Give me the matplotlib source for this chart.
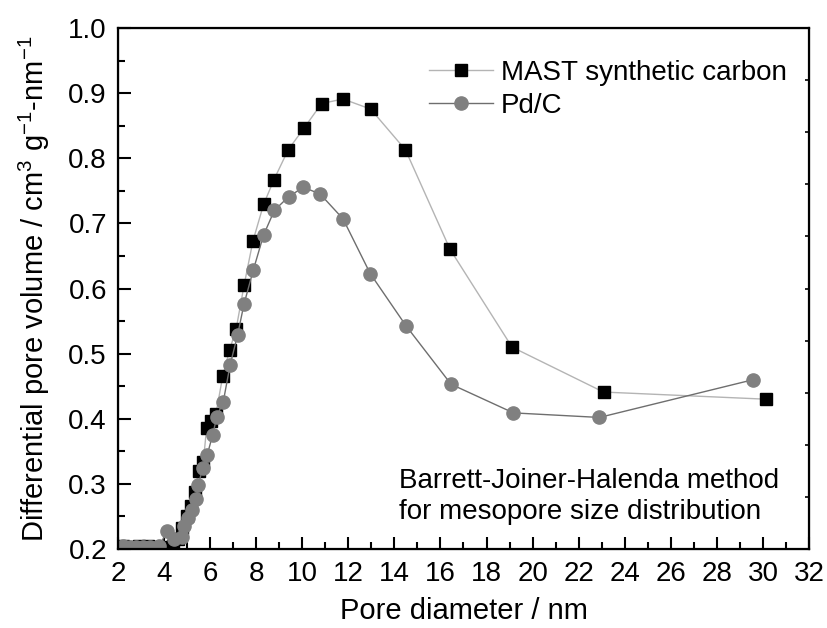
import matplotlib
matplotlib.use("Agg")
import matplotlib.pyplot as plt
from matplotlib.ticker import MultipleLocator
import numpy as np

plt.rcParams['font.family'] = ['Liberation Sans', 'DejaVu Sans']
plt.rcParams['mathtext.fontset'] = 'custom'
plt.rcParams['mathtext.rm'] = 'Liberation Sans'
plt.rcParams['mathtext.it'] = 'Liberation Sans'

# BJH pore size distribution
mast_x = [2.2, 2.5, 2.9, 3.3, 3.7, 4.1, 4.4, 4.6, 4.8, 5.0, 5.15, 5.35, 5.5, 5.7,
          5.85, 6.05, 6.25, 6.55, 6.85, 7.13, 7.48, 7.86, 8.32, 8.77, 9.39, 10.07,
          10.84, 11.77, 12.97, 14.48, 16.42, 19.11, 23.08, 30.15]
mast_y = [0.205, 0.203, 0.204, 0.204, 0.203, 0.203, 0.205, 0.215, 0.232, 0.25,
          0.266, 0.288, 0.32, 0.333, 0.386, 0.396, 0.407, 0.466, 0.506, 0.538,
          0.606, 0.673, 0.729, 0.767, 0.813, 0.846, 0.884, 0.891, 0.8755, 0.813,
          0.660, 0.510, 0.441, 0.430]

pdc_x = [2.2, 2.5, 2.8, 3.1, 3.4, 3.8, 4.13, 4.44, 4.78, 4.88, 5.04, 5.2, 5.4,
         5.48, 5.68, 5.87, 6.11, 6.29, 6.57, 6.87, 7.19, 7.47, 7.88, 8.32, 8.79,
         9.41, 10.05, 10.78, 11.77, 12.95, 14.5, 16.46, 19.17, 22.9, 29.58]
pdc_y = [0.205, 0.203, 0.203, 0.203, 0.203, 0.205, 0.227, 0.216, 0.219, 0.236,
         0.247, 0.26, 0.277, 0.298, 0.324, 0.344, 0.375, 0.403, 0.426, 0.483,
         0.528, 0.576, 0.629, 0.682, 0.720, 0.741, 0.7555, 0.745, 0.707, 0.623,
         0.543, 0.453, 0.409, 0.402, 0.460]

fig = plt.figure(figsize=(8.28, 6.28), dpi=100)
ax = fig.add_axes([0.1425, 0.1258, 0.977 - 0.1425, 0.9554 - 0.1258])

ax.plot(mast_x, mast_y, '-', color='#b4b4b4', lw=1.0, marker='s', ms=9,
        mfc='black', mec='black', label='MAST synthetic carbon')
ax.plot(pdc_x, pdc_y, '-', color='#6e6e6e', lw=1.0, marker='o', ms=9.5,
        mfc='#808080', mec='#808080', label='Pd/C')

ax.set_xlim(2, 32)
ax.set_ylim(0.2, 1.0)
ax.xaxis.set_major_locator(MultipleLocator(2))
ax.xaxis.set_minor_locator(MultipleLocator(1))
ax.yaxis.set_major_locator(MultipleLocator(0.1))
ax.yaxis.set_minor_locator(MultipleLocator(0.05))
ax.yaxis.set_major_formatter(matplotlib.ticker.FormatStrFormatter('%.1f'))
ax.tick_params(which='both', direction='in', width=1.5, labelsize=20)
ax.tick_params(which='major', length=9)
ax.tick_params(which='minor', length=5)
ax.tick_params(axis='x', pad=9)
ax.tick_params(axis='y', pad=8)
for s in ax.spines.values():
    s.set_linewidth(1.6)

# right spine carries its own short ticks
ax2 = ax.twinx()
ax2.set_ylim(0.2, 1.0)
ax2.set_yticks(np.arange(0.28, 0.99, 0.08))
ax2.tick_params(direction='in', length=3, width=1.2, labelright=False)

ax.set_xlabel('Pore diameter / nm', fontsize=21, labelpad=7)
ax.set_ylabel('Differential pore volume / cm$^3$ g$^{-1}$-nm$^{-1}$', fontsize=21, labelpad=12)

ax.legend(loc='upper left', bbox_to_anchor=(0.43, 0.965), frameon=False, fontsize=20,
          handlelength=2.3, handletextpad=0.3, borderpad=0, labelspacing=0.25)

ax.text(14.2, 0.28, 'Barrett-Joiner-Halenda method\nfor mesopore size distribution',
        fontsize=20, ha='left', va='center', linespacing=1.25)

fig.savefig('out.png', dpi=100)
